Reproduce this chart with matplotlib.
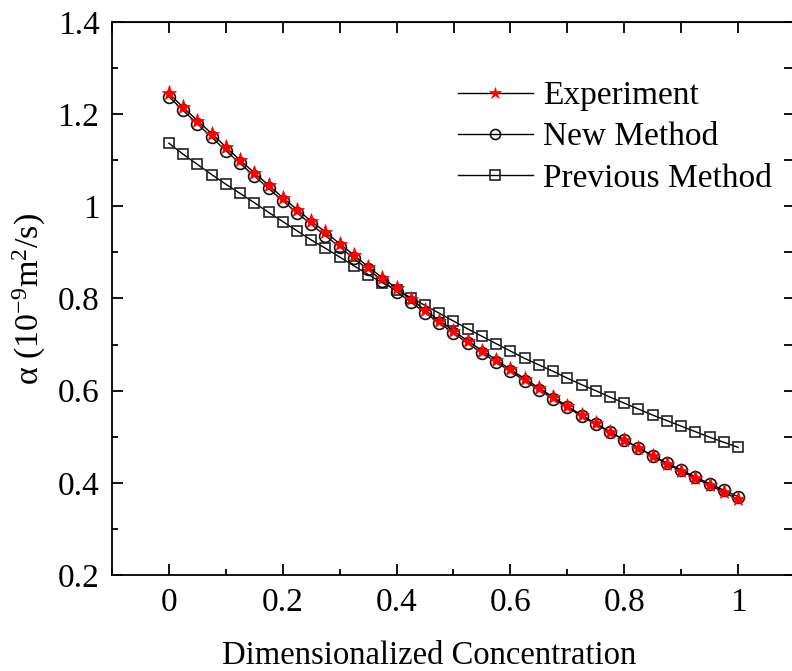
import numpy as np
import matplotlib
matplotlib.use("Agg")
import matplotlib.pyplot as plt
from matplotlib.ticker import MultipleLocator

plt.rcParams['font.family'] = ['Liberation Serif', 'DejaVu Serif']
plt.rcParams['mathtext.fontset'] = 'custom'
plt.rcParams['mathtext.rm'] = 'Liberation Serif'
plt.rcParams['mathtext.it'] = 'Liberation Serif:italic'

concentration = [i * 0.025 for i in range(41)]

experiment = [1.245, 1.215, 1.186, 1.158, 1.129, 1.100, 1.073, 1.046, 1.019, 0.993,
              0.968, 0.944, 0.919, 0.894, 0.869, 0.845, 0.822, 0.798, 0.775, 0.752,
              0.730, 0.708, 0.687, 0.667, 0.646, 0.626, 0.606, 0.586, 0.566, 0.547,
              0.529, 0.511, 0.493, 0.476, 0.458, 0.441, 0.426, 0.410, 0.395, 0.380,
              0.364]

new_method = [1.238, 1.208, 1.179, 1.150, 1.121, 1.093, 1.066, 1.039, 1.012, 0.986,
              0.961, 0.936, 0.912, 0.887, 0.863, 0.839, 0.815, 0.792, 0.769, 0.747,
              0.725, 0.703, 0.682, 0.662, 0.642, 0.622, 0.602, 0.583, 0.564, 0.545,
              0.527, 0.510, 0.493, 0.476, 0.459, 0.443, 0.428, 0.413, 0.398, 0.384,
              0.370]

previous_method = [1.137, 1.113, 1.091, 1.069, 1.048, 1.028, 1.008, 0.987, 0.967, 0.947,
                   0.927, 0.909, 0.890, 0.871, 0.852, 0.834, 0.818, 0.802, 0.785, 0.768,
                   0.751, 0.734, 0.718, 0.702, 0.686, 0.670, 0.656, 0.642, 0.627, 0.613,
                   0.600, 0.586, 0.573, 0.560, 0.547, 0.535, 0.523, 0.511, 0.499, 0.488,
                   0.477]

x_ticks = [0, 0.2, 0.4, 0.6, 0.8, 1.0]
x_ticklabels = ['0', '0.2', '0.4', '0.6', '0.8', '1']
y_ticks = [0.2, 0.4, 0.6, 0.8, 1.0, 1.2, 1.4]
y_ticklabels = ['0.2', '0.4', '0.6', '0.8', '1', '1.2', '1.4']

W, H = 792, 671
fig = plt.figure(figsize=(W / 100, H / 100), dpi=100)
ax = fig.add_axes([112 / W, 1 - 575 / H, (795 - 112) / W, (575 - 22) / H])

l3, = ax.plot(concentration, previous_method, color='black', lw=1.0, marker='s',
              ms=7.8, mfc='none', mec='#222222', mew=1.2, label='Previous Method', zorder=2)
l2, = ax.plot(concentration, new_method, color='black', lw=1.0, marker='o',
              ms=8.5, mfc='none', mec='#111111', mew=1.2, label='New Method', zorder=3)
l1, = ax.plot(concentration, experiment, color='black', lw=1.0, marker='*',
              ms=11, mfc='red', mec='red', mew=0.5, label='Experiment', zorder=4)

ax.set_xlim(-0.1, 1.1)
ax.set_ylim(0.2, 1.4)
ax.set_xticks(x_ticks)
ax.set_xticklabels(x_ticklabels)
ax.set_yticks(y_ticks)
ax.set_yticklabels(y_ticklabels)
ax.xaxis.set_minor_locator(MultipleLocator(0.1))
ax.yaxis.set_minor_locator(MultipleLocator(0.1))
ax.tick_params(which='major', direction='in', length=8, width=1.3, labelsize=24)
ax.tick_params(axis='x', which='major', pad=9)
ax.tick_params(axis='y', which='major', pad=9)
ax.tick_params(which='minor', direction='in', length=4.5, width=1.3)
for s in ax.spines.values():
    s.set_linewidth(1.3)

top = ax.secondary_xaxis('top')
top.set_xticks(np.arange(-0.1, 1.11, 0.1))
top.tick_params(direction='in', length=8, width=1.3, labeltop=False)
top.set_xticklabels([])
right = ax.secondary_yaxis('right')
right.set_yticks(np.arange(0.2, 1.41, 0.1))
right.tick_params(direction='in', length=8, width=1.3, labelright=False)
right.set_yticklabels([])

ax.set_xlabel('Dimensionalized Concentration', fontsize=23.5)
ax.xaxis.set_label_coords((429 - 112) / 683, (575 - 640) / 553)
ax.set_ylabel('α (10$^{-9}$m$^{2}$/s)', fontsize=24.5)
ax.yaxis.set_label_coords((48 - 112) / 683, 0.5)

leg = ax.legend(handles=[l1, l2, l3], loc='upper left', bbox_to_anchor=(0.487, 0.918),
                frameon=False, fontsize=24, handlelength=2.25, handletextpad=0.3,
                labelspacing=0.32, markerscale=0.85, borderaxespad=0)

fig.savefig('out.png', dpi=100)
